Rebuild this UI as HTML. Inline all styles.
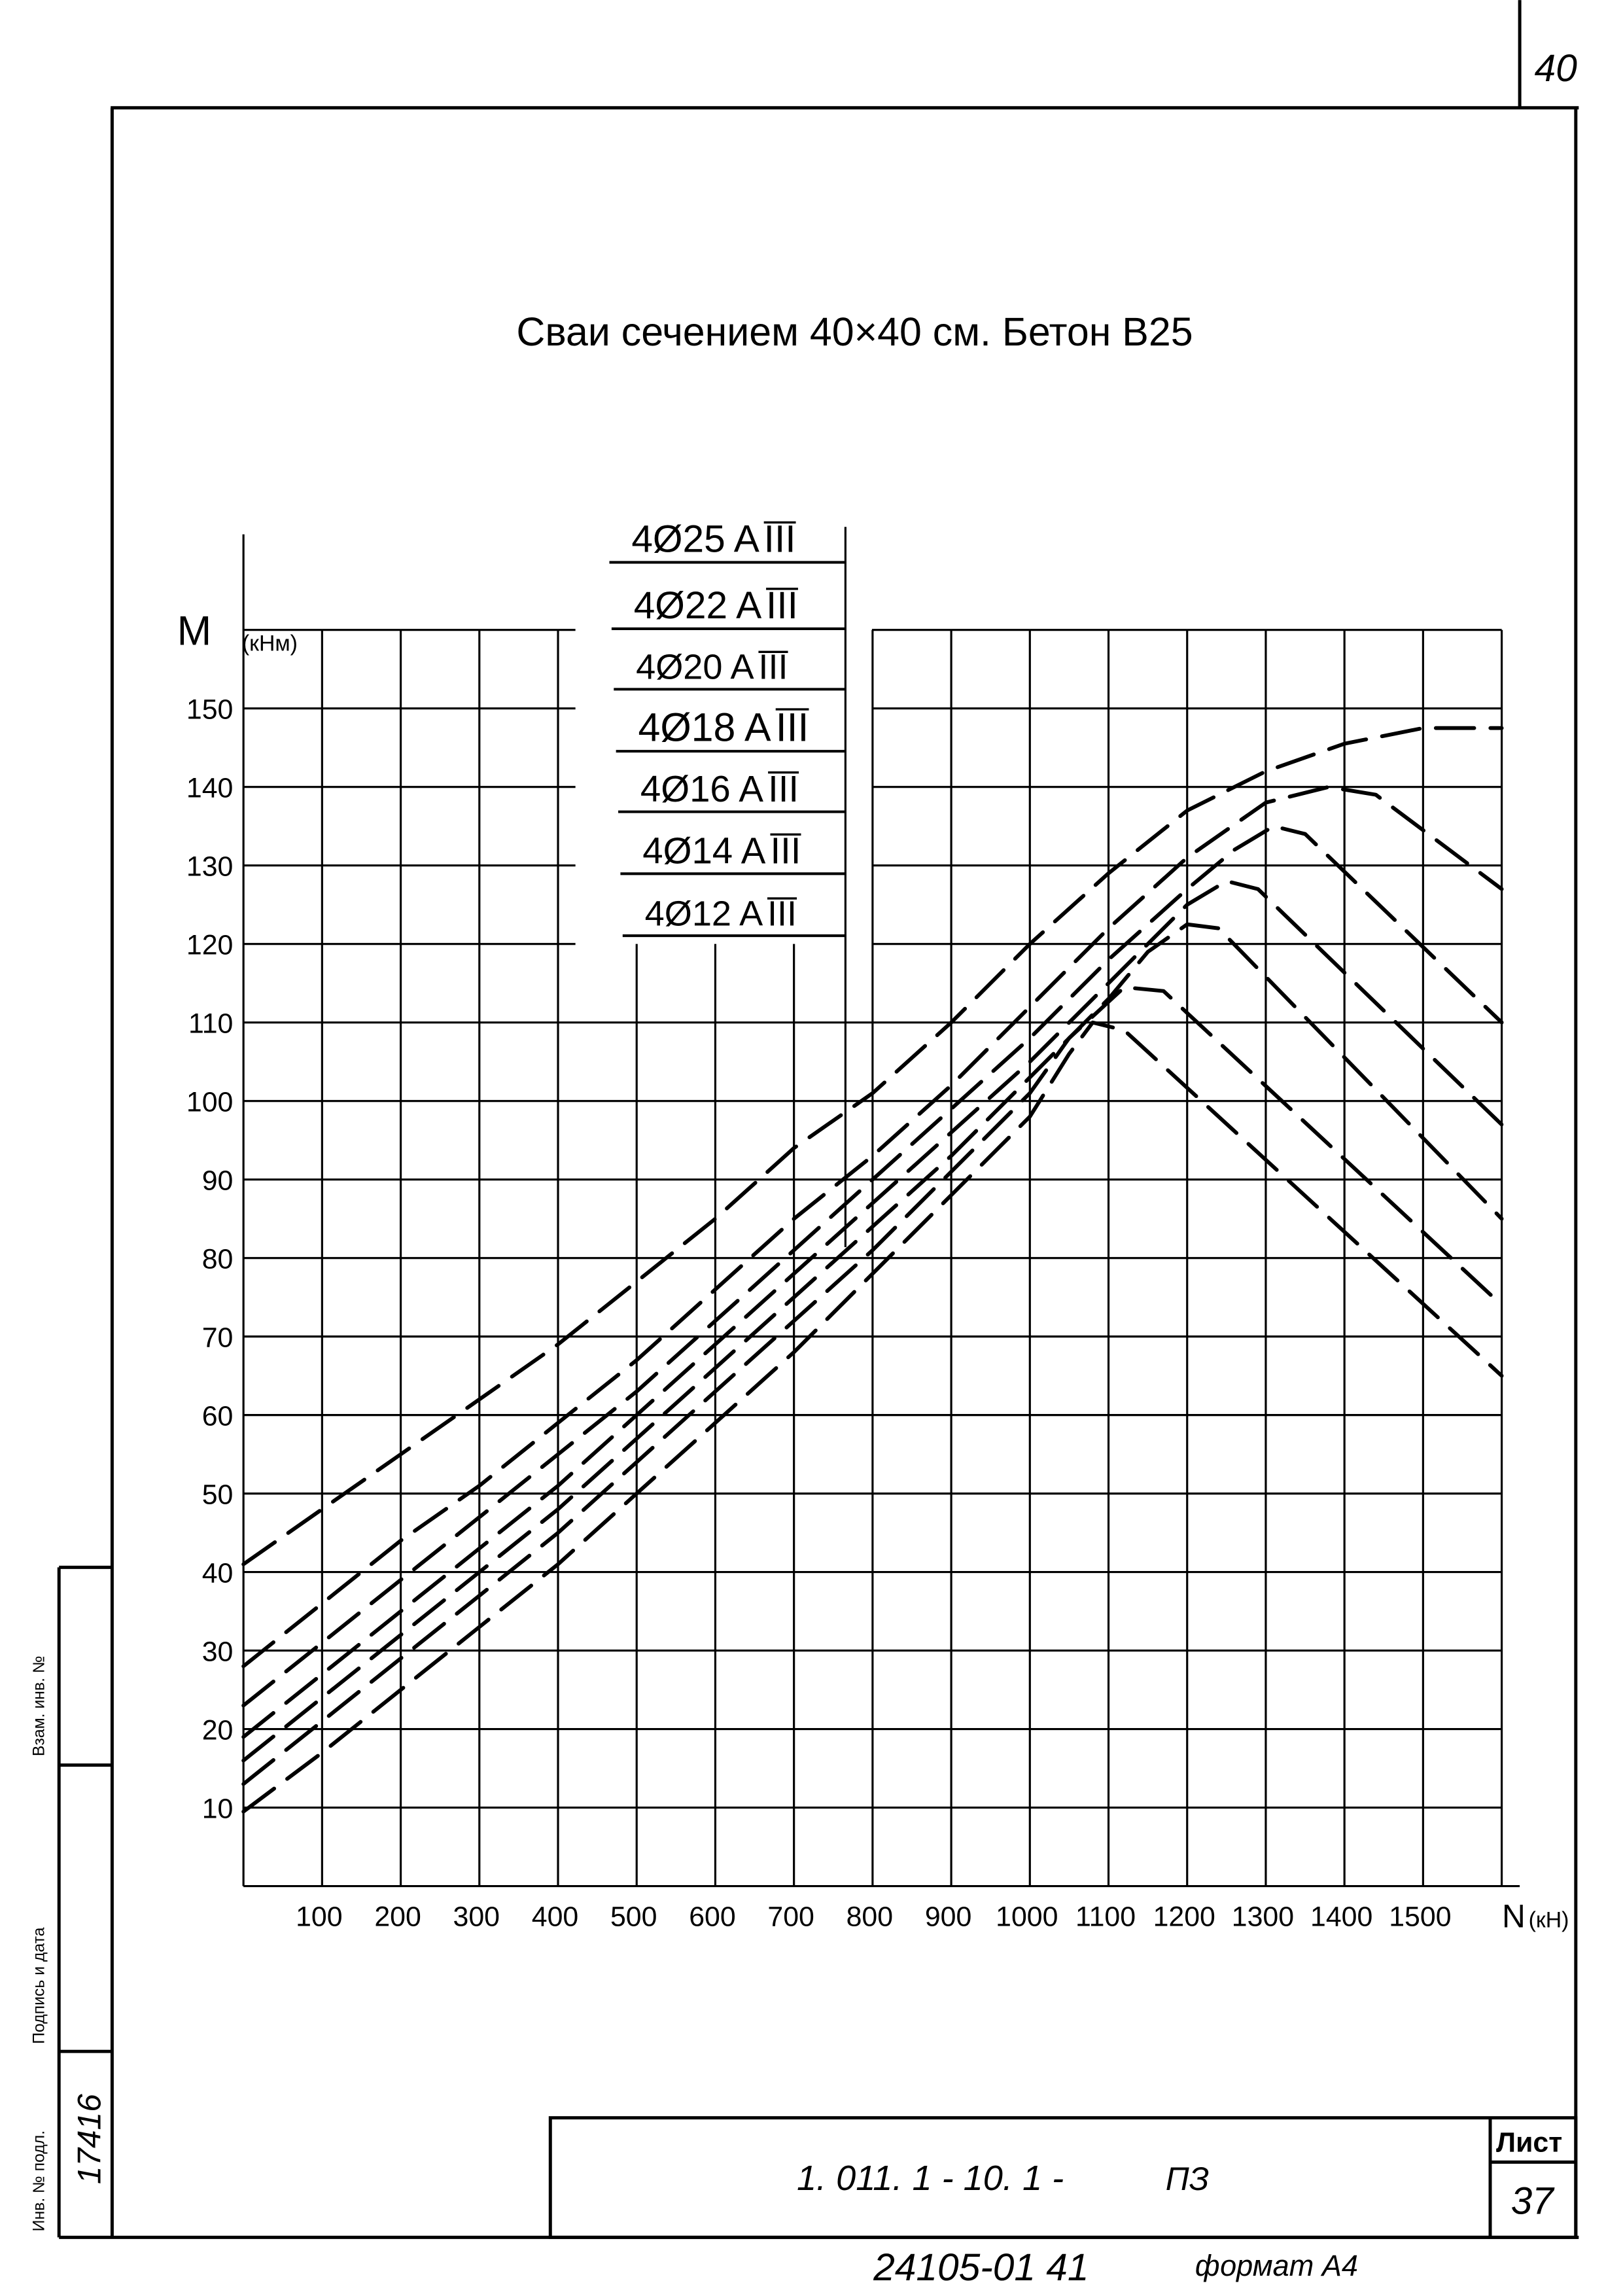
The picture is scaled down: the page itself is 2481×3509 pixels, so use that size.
<!DOCTYPE html>
<html><head><meta charset="utf-8"><style>
html,body{margin:0;padding:0;background:#fff}
svg{display:block}
text{font-family:"Liberation Sans Narrow","Liberation Sans",sans-serif;fill:#000}
</style></head><body>
<svg id="chart" width="2481" height="3509" viewBox="0 0 1100 1555.7" xmlns="http://www.w3.org/2000/svg">
<g stroke="#000" fill="none" stroke-width="2.2">
<line x1="75" y1="73" x2="1070" y2="73"/>
<line x1="76" y1="73" x2="76" y2="1516"/>
<line x1="1068" y1="73" x2="1068" y2="1516"/>
<line x1="1030" y1="0" x2="1030" y2="73"/>
<line x1="40" y1="1516" x2="1070" y2="1516"/>
<line x1="40" y1="1062" x2="40" y2="1516"/>
<line x1="40" y1="1062" x2="76" y2="1062"/>
<line x1="40" y1="1196" x2="76" y2="1196"/>
<line x1="40" y1="1390" x2="76" y2="1390"/>
<rect x="373" y="1435" width="695" height="81"/>
<line x1="1010" y1="1435" x2="1010" y2="1516"/>
<line x1="1010" y1="1465" x2="1068" y2="1465"/>
</g>
<text x="1040" y="55" font-size="26" font-style="italic">40</text>
<text transform="translate(30,1190) rotate(-90)" font-size="11">Взам. инв. №</text>
<text transform="translate(30,1385) rotate(-90)" font-size="11">Подпись и дата</text>
<text transform="translate(30,1512) rotate(-90)" font-size="11">Инв. № подл.</text>
<text transform="translate(68,1480) rotate(-90)" font-size="22" font-style="italic">17416</text>
<text x="540" y="1484" font-size="24" font-style="italic">1. 011. 1 - 10. 1 -</text>
<text x="790" y="1484" font-size="22" font-style="italic">ПЗ</text>
<text x="1014" y="1458" font-size="19" font-weight="bold">Лист</text>
<text x="1024" y="1500" font-size="26" font-style="italic">37</text>
<text x="592" y="1545" font-size="26" font-style="italic">24105-01   41</text>
<text x="810" y="1542" font-size="20" font-style="italic">формат А4</text>
<text x="350" y="234" font-size="27">Сваи сечением 40×40 см. Бетон В25</text>
<g id="grid" stroke="#000" stroke-width="1.4"></g>
<g id="legend"></g>
<g id="labels"></g>
<g id="curves" fill="none" stroke="#000" stroke-width="2.6" stroke-dasharray="26 11" stroke-linecap="round" stroke-linejoin="round"></g>
</svg>
<script>
const xTicks = [100,200,300,400,500,600,700,800,900,1000,1100,1200,1300,1400,1500];
const yTicks = [10,20,30,40,50,60,70,80,90,100,110,120,130,140,150];
const seriesNames = ["4Ø25 A","4Ø22 A","4Ø20 A","4Ø18 A","4Ø16 A","4Ø14 A","4Ø12 A"];
const nPts25 = [0,100,200,300,400,500,600,700,800,900,1000,1100,1200,1300,1400,1500,1600];
const m25 = [41,48,55,62,69,77,85,94,101,110,120,129,137,142,145.5,147.5,147.5];
const nPts22 = [0,100,200,300,400,500,600,700,800,900,1000,1100,1200,1300,1380,1440,1600];
const m22 = [28,36,44,51,59,67,76,85,93,102,112,122,131,138,140,139,127];
const nPts20 = [0,100,200,300,400,500,600,700,800,900,1000,1100,1200,1260,1310,1350,1600];
const m20 = [23,31,39,47,55,63,72,81,90,99,108,118,127,132,135,134,110];
const nPts18 = [0,100,200,300,400,500,600,700,800,900,1000,1100,1200,1250,1290,1600];
const m18 = [19,27,35,43,51,60,69,78,87,96,105,115,125,128,127,97];
const nPts16 = [0,100,200,300,400,500,600,700,800,900,1000,1100,1150,1200,1240,1600];
const m16 = [16,24,32,40,48,57,66,75,84,93,103,113,119,122.5,122,85];
const nPts14 = [0,100,200,300,400,500,600,700,800,900,1000,1050,1120,1170,1600];
const m14 = [13,21,29,37,45,54,63,72,81,91,101,108,114.5,114,74];
const nPts12 = [0,100,200,300,400,500,600,700,800,900,1000,1050,1080,1120,1600];
const m12 = [9.5,17,25,33,41,50,59,68,78,88,98,106,110,109,65];
const curveN = [nPts25,nPts22,nPts20,nPts18,nPts16,nPts14,nPts12];
const curveM = [m25,m22,m20,m18,m16,m14,m12];

const NS="http://www.w3.org/2000/svg";
const X = n => 165 + n*0.533;
const Y = m => 1278 - m*5.32;
function mk(tag, attrs, parent){const e=document.createElementNS(NS,tag);for(const k in attrs)e.setAttribute(k,attrs[k]);parent.appendChild(e);return e;}
const grid=document.getElementById('grid');
function ln(x1,y1,x2,y2,name){const l=mk('line',{x1,y1,x2,y2},grid);


return l;}
ln(165,362,165,1278,'y-axis');
ln(165,1278,1030,1278,'x-axis');
for(let i=1;i<=16;i++){const n=i*100;const x=X(n);
 let top = (n>=500&&n<=700)?Y(120):Y(160);
 ln(x,top,x,1278,'gridline-x');}
ln(165,Y(160),390,Y(160),'gridline-y');
ln(591,Y(160),X(1600),Y(160),'gridline-y');
for(const m of yTicks){
 if(m>=120){ln(165,Y(m),390,Y(m),'gridline-y');ln(591,Y(m),X(1600),Y(m),'gridline-y');}
 else ln(165,Y(m),X(1600),Y(m),'gridline-y');}
ln(573,357,573,845,'legend-divider');
const leg=document.getElementById('legend');
const legY=[381,426,467,509,550,592,634];
const legSize=[26,26,24,27,25,25,24];
seriesNames.forEach((s,i)=>{
 const l=mk('line',{x1:413+i*1.5,y1:legY[i],x2:573,y2:legY[i],stroke:'#000','stroke-width':1.8},leg);
 
 
 const t=mk('text',{x:428+i*1.5,y:legY[i]-7,'font-size':legSize[i]},leg);
 
 
 t.textContent=s;
 const bb=t.getBBox();
 const r=mk('text',{x:bb.x+bb.width+3,y:legY[i]-7,'font-size':legSize[i],'font-family':'Liberation Serif, serif'},leg);
 
 
 r.textContent='III';
 const rb=r.getBBox();
 const o=mk('line',{x1:rb.x,y1:rb.y+3,x2:rb.x+rb.width,y2:rb.y+3,stroke:'#000','stroke-width':1.5},leg);
 
 
});
const lab=document.getElementById('labels');
xTicks.forEach(n=>{const t=mk('text',{x:X(n)-2,y:1305,'font-size':19,'text-anchor':'middle'},lab);
 
 
 t.textContent=n;});
yTicks.forEach(m=>{const t=mk('text',{x:158,y:Y(m)+7,'font-size':19,'text-anchor':'end'},lab);
 
 
 t.textContent=m;});
let t=mk('text',{x:120,y:437,'font-size':28,'font-family':'Liberation Serif, serif'},lab);


t.textContent='M';
t=mk('text',{x:164,y:441,'font-size':15},lab);


t.textContent='(кНм)';
t=mk('text',{x:1018,y:1306,'font-size':22,'font-family':'Liberation Serif, serif'},lab);


t.textContent='N';
t=mk('text',{x:1036,y:1306,'font-size':15},lab);


t.textContent='(кН)';
const cg=document.getElementById('curves');
curveN.forEach((ns,i)=>{
 const ms=curveM[i];
 let d='';
 ns.forEach((n,j)=>{d+=(j?'L':'M')+X(n).toFixed(1)+','+Y(ms[j]).toFixed(1);});
 const p=mk('path',{d},cg);
 
 
});
</script>
</body></html>
